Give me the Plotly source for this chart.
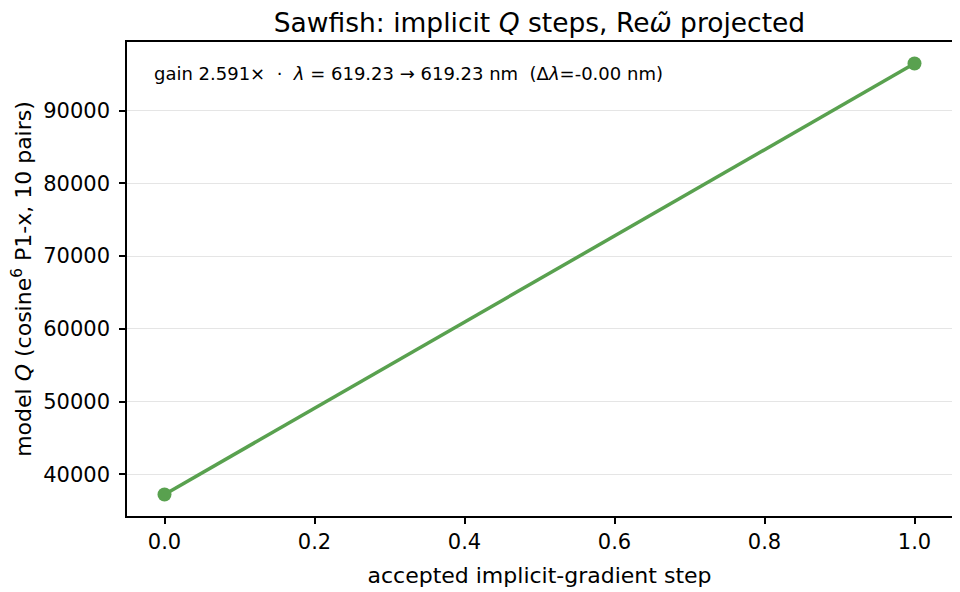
import plotly.graph_objects as go

# accepted steps and model Q
steps = [0, 1]
q_vals = [37230, 96460]

x_ticks = [0.0, 0.2, 0.4, 0.6, 0.8, 1.0]
y_ticks = [40000, 50000, 60000, 70000, 80000, 90000]

green = '#59a14f'
font = 'DejaVu Sans'

fig = go.Figure()
fig.add_trace(go.Scatter(
    x=steps, y=q_vals,
    mode='lines+markers',
    line=dict(color=green, width=3.5),
    marker=dict(color=green, size=14),
    showlegend=False
))

fig.add_annotation(
    xref='paper', yref='paper', x=0.03, y=0.96,
    xanchor='left', yanchor='top', showarrow=False,
    text='gain 2.591×  ·  <i>λ</i> = 619.23 → 619.23 nm  (Δ<i>λ</i>=-0.00 nm)',
    font=dict(family=font, size=18, color='black')
)

# page body adds an 8px margin, so the figure is 8px smaller each way
fig.update_layout(
    width=952, height=584,
    margin=dict(l=119, r=8, t=34, b=76),
    plot_bgcolor='white', paper_bgcolor='white',
    font=dict(family=font, size=18.5, color='black'),
    title=dict(text='Sawfish: implicit <i>Q</i> steps, Re<i>ω\u0303</i> projected',
               x=0.5, xref='paper', xanchor='center', y=0.974, yanchor='middle',
               font=dict(size=26.5)),
)

fig.update_xaxes(
    range=[-0.05, 1.05], tickvals=x_ticks, ticktext=[f'{v:.1f}' for v in x_ticks],
    tickfont=dict(family=font, size=21),
    showgrid=False, zeroline=False, automargin=False,
    ticks='outside', ticklen=6, tickwidth=1.5, tickcolor='black',
    showline=True, linecolor='black', linewidth=1.5, mirror=True,
    title=dict(text='accepted implicit-gradient step')
)
fig.update_yaxes(
    range=[34270, 99420], tickvals=y_ticks, ticktext=[str(v) for v in y_ticks],
    tickfont=dict(family=font, size=21), ticklabelstandoff=5,
    showgrid=True, gridcolor='#e5e5e5', gridwidth=1.2, zeroline=False, automargin=False,
    ticks='outside', ticklen=6, tickwidth=1.5, tickcolor='black',
    showline=True, linecolor='black', linewidth=1.5, mirror=True,
    title=dict(text='model <i>Q</i> (cosine<sup>6</sup> P1-x, 10 pairs)')
)

fig.write_html('out.html')
